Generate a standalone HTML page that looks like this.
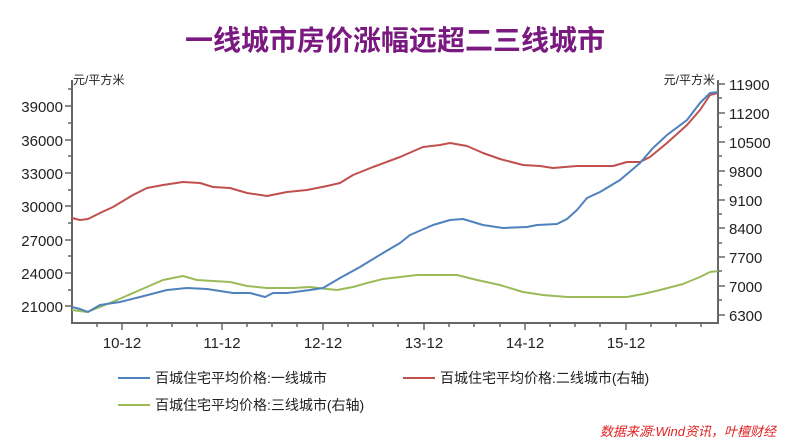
<!DOCTYPE html>
<html><head><meta charset="utf-8"><style>
body{margin:0;background:#fff;}
svg text{font-family:"Liberation Sans","Noto Sans CJK SC",sans-serif;}
</style></head><body>
<svg width="790" height="441" viewBox="0 0 790 441" xmlns="http://www.w3.org/2000/svg">
<rect width="790" height="441" fill="#fff"/>
<text x="395" y="50" text-anchor="middle" font-size="28" font-weight="bold" fill="#7a1a80">一线城市房价涨幅远超二三线城市</text>
<g stroke="#666" stroke-width="2" fill="none">
<path d="M72,80V323H718V80"/>
</g>
<g stroke="#666" stroke-width="1.5">
<path d="M65,106H72M65,140H72M65,173H72M65,206H72M65,240H72M65,273H72M65,306H72"/>
<path d="M68,89H72M68,123H72M68,156H72M68,190H72M68,223H72M68,256H72M68,290H72"/>
<path d="M718,84H725M718,113H725M718,142H725M718,171H725M718,200H725M718,228H725M718,257H725M718,286H725M718,315H725"/>
<path d="M718,98H722M718,127H722M718,156H722M718,185H722M718,214H722M718,243H722M718,271H722M718,300H722"/>
<path d="M122,323V330M222,323V330M323,323V330M424,323V330M525,323V330M626,323V330"/>
<path d="M97,323V327M147,323V327M172,323V327M197,323V327M247,323V327M272,323V327M297,323V327M348,323V327M373,323V327M398,323V327M449,323V327M474,323V327M500,323V327M550,323V327M575,323V327M600,323V327M651,323V327M676,323V327M701,323V327"/>
</g>
<g font-size="15" fill="#222" text-anchor="end">
<text x="63" y="112">39000</text><text x="63" y="146">36000</text><text x="63" y="179">33000</text><text x="63" y="212">30000</text><text x="63" y="246">27000</text><text x="63" y="279">24000</text><text x="63" y="312">21000</text>
</g>
<g font-size="15" fill="#222">
<text x="729" y="90">11900</text><text x="729" y="119">11200</text><text x="729" y="148">10500</text><text x="729" y="177">9800</text><text x="729" y="206">9100</text><text x="729" y="234">8400</text><text x="729" y="263">7700</text><text x="729" y="292">7000</text><text x="729" y="321">6300</text>
</g>
<g font-size="15" fill="#222" text-anchor="middle">
<text x="122" y="348">10-12</text><text x="222" y="348">11-12</text><text x="323" y="348">12-12</text><text x="424" y="348">13-12</text><text x="525" y="348">14-12</text><text x="626" y="348">15-12</text>
</g>
<text x="73" y="84" font-size="12" fill="#222">元/平方米</text>
<text x="715" y="84" font-size="12" fill="#222" text-anchor="end">元/平方米</text>
<g fill="none" stroke-width="2" stroke-linejoin="round">
<polyline stroke="#c0504d" points="72,218 80,220 88,219 100,213 113,207 133,195 147,188 163,185 183,182 200,183 213,187 230,188 247,193 267,196 287,192 307,190 327,186 340,183 353,175 373,167 400,157 423,147 440,145 450,143 467,146 483,153 500,159 523,165 540,166 553,168 577,166 597,166 613,166 627,162 640,162 650,157 667,143 687,125 700,110 710,95 718,93"/>
<polyline stroke="#9bbb59" points="72,310 87,312 100,307 117,300 140,290 163,280 183,276 197,280 213,281 230,282 247,286 267,288 293,288 310,287 327,289 337,290 353,287 367,283 383,279 400,277 417,275 457,275 477,280 500,285 523,292 543,295 567,297 593,297 613,297 627,297 643,294 660,290 683,284 700,277 710,272 718,271"/>
<polyline stroke="#4f81bd" points="72,307 80,309 88,312 100,305 120,302 140,297 167,290 187,288 207,289 233,293 250,293 265,297 273,293 287,293 310,290 323,288 340,278 360,267 383,253 400,243 410,235 433,225 450,220 463,219 483,225 503,228 527,227 537,225 557,224 567,219 577,210 587,198 600,192 620,180 640,163 653,148 667,135 687,120 700,103 710,93 718,92"/>
</g>
<g stroke-width="2">
<line x1="118" y1="378" x2="150" y2="378" stroke="#4f81bd"/>
<line x1="403" y1="378" x2="435" y2="378" stroke="#c0504d"/>
<line x1="118" y1="405" x2="150" y2="405" stroke="#9bbb59"/>
</g>
<g font-size="14" fill="#222">
<text x="155" y="383">百城住宅平均价格:一线城市</text>
<text x="440" y="383">百城住宅平均价格:二线城市(右轴)</text>
<text x="155" y="410">百城住宅平均价格:三线城市(右轴)</text>
</g>
<text x="776" y="436" font-size="13" font-style="italic" fill="#e02020" text-anchor="end">数据来源:Wind资讯，叶檀财经</text>
</svg>
</body></html>
